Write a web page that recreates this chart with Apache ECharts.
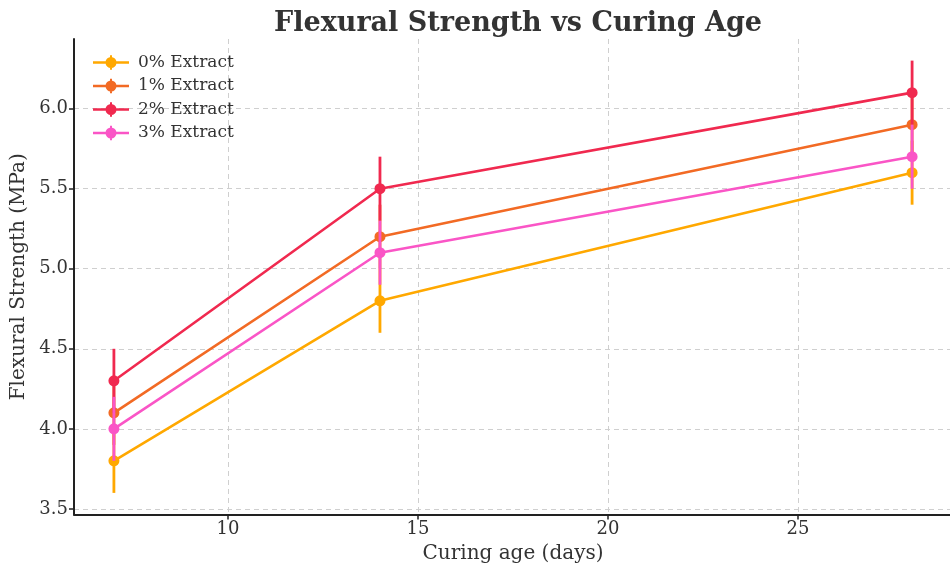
<!DOCTYPE html>
<html>
<head>
<meta charset="utf-8">
<script src="https://cdn.jsdelivr.net/npm/echarts@6/dist/echarts.min.js"></script>
<style>html,body{margin:0;padding:0;background:#fff}#c{width:950px;height:564px}</style>
</head>
<body>
<div id="c"></div>
<script>
const ages = [7, 14, 28];
const seriesNames = ['0% Extract', '1% Extract', '2% Extract', '3% Extract'];
const strength0 = [3.8, 4.8, 5.6];
const strength1 = [4.1, 5.2, 5.9];
const strength2 = [4.3, 5.5, 6.1];
const strength3 = [4.0, 5.1, 5.7];
const error0 = [0.2, 0.2, 0.2];
const error1 = [0.2, 0.2, 0.2];
const error2 = [0.2, 0.2, 0.2];
const error3 = [0.2, 0.2, 0.2];
const xTicks = [10, 15, 20, 25];
const yTicks = [3.5, 4.0, 4.5, 5.0, 5.5, 6.0];

const colors = ['#FFA800', '#F26A24', '#F0294F', '#FA55C6'];
const values = [strength0, strength1, strength2, strength3];
const errors = [error0, error1, error2, error3];
const FONT = 'DejaVu Serif';

const legendIcon = 'path://M0,6 L36,6 L36,8.6 L0,8.6 Z M12.5,7.3 A5.5,5.5 0 1,1 23.5,7.3 A5.5,5.5 0 1,1 12.5,7.3 Z M17,0 L19,0 L19,14.6 L17,14.6 Z';

const series = [];
seriesNames.forEach((name, i) => {
  const errData = ages.map((a, k) => [a, values[i][k] - errors[i][k], values[i][k] + errors[i][k]]);
  series.push({
    name: name,
    type: 'custom',
    data: errData,
    encode: { x: 0, y: [1, 2] },
    renderItem: function (params, api) {
      const p1 = api.coord([api.value(0), api.value(1)]);
      const p2 = api.coord([api.value(0), api.value(2)]);
      return {
        type: 'line',
        shape: { x1: p1[0], y1: p1[1], x2: p2[0], y2: p2[1] },
        style: { stroke: colors[i], lineWidth: 2.8 }
      };
    },
    z: 2 + i * 2,
    silent: true
  });
  series.push({
    name: name,
    type: 'line',
    data: ages.map((a, k) => [a, values[i][k]]),
    symbol: 'circle',
    symbolSize: 11,
    showSymbol: true,
    lineStyle: { color: colors[i], width: 2.6 },
    itemStyle: { color: colors[i] },
    z: 3 + i * 2,
    animation: false
  });
});

const chart = echarts.init(document.getElementById('c'), null, { renderer: 'canvas' });
chart.setOption({
  animation: false,
  backgroundColor: '#fff',
  title: {
    text: 'Flexural Strength vs Curing Age',
    left: 513, top: 5, textAlign: 'center',
    textStyle: { fontFamily: FONT, fontWeight: 'bold', fontSize: 27, color: '#333' }
  },
  legend: {
    data: seriesNames.map((n, i) => ({ name: n, icon: legendIcon, itemStyle: { color: colors[i] } })),
    orient: 'vertical',
    left: 88, top: 49,
    itemWidth: 36, itemHeight: 15,
    itemGap: 6.5,
    textStyle: { fontFamily: FONT, fontSize: 17, color: '#333', padding: [0, 0, 0, 4] }
  },
  grid: { left: 74, top: 39, width: 878, bottom: 49.5, containLabel: false, outerBoundsMode: 'none' },
  xAxis: {
    type: 'value',
    min: 5.95, max: 29.05,
    name: 'Curing age (days)',
    nameLocation: 'middle', nameGap: 28,
    nameTextStyle: { fontFamily: FONT, fontSize: 20, color: '#333' },
    axisLine: { show: true, lineStyle: { color: '#222', width: 2 } },
    axisTick: { show: true, customValues: xTicks, length: 5, lineStyle: { color: '#222', width: 1.5 } },
    axisLabel: { customValues: xTicks, fontFamily: FONT, fontSize: 18, color: '#333', margin: 6 },
    splitLine: { show: true, lineStyle: { color: '#cfcfcf', type: [5, 4], width: 1 } }
  },
  yAxis: {
    type: 'value',
    min: 3.465, max: 6.435,
    name: 'Flexural Strength (MPa)',
    nameLocation: 'middle', nameGap: 45, nameRotate: 90,
    nameTextStyle: { fontFamily: FONT, fontSize: 20, color: '#333' },
    axisLine: { show: true, lineStyle: { color: '#222', width: 2 } },
    axisTick: { show: true, customValues: yTicks, length: 5, lineStyle: { color: '#222', width: 1.5 } },
    axisLabel: { customValues: yTicks, fontFamily: FONT, fontSize: 18, color: '#333', margin: 6,
      formatter: v => v.toFixed(1) },
    splitLine: { show: true, lineStyle: { color: '#cfcfcf', type: [5, 4], width: 1 } }
  },
  series: series
});
</script>
</body>
</html>
